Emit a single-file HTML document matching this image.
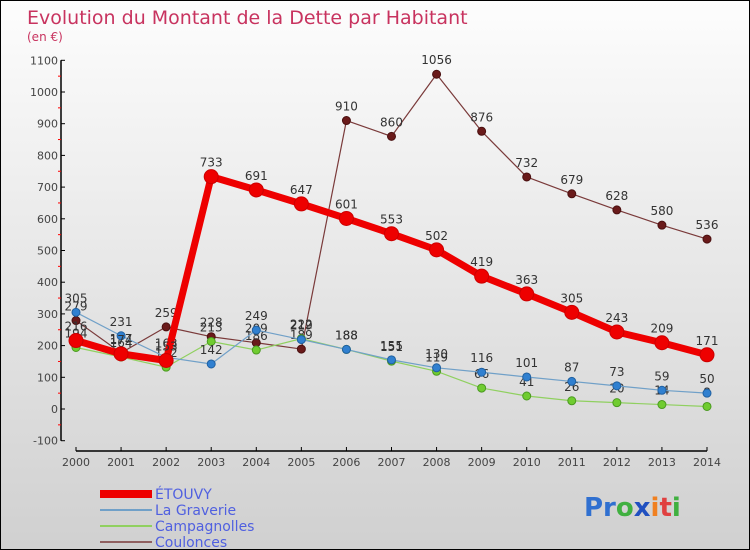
<!DOCTYPE html>
<html><head><meta charset="utf-8"><style>
body{margin:0;width:750px;height:550px;overflow:hidden;font-family:"DejaVu Sans","Liberation Sans",sans-serif}
#wrap{position:relative;width:748px;height:548px;border:1px solid #000;background:linear-gradient(#fdfdfd,#d0d0d0)}
svg{position:absolute;left:0;top:0}
</style></head><body>
<div id="wrap">
<svg id="chart" width="748" height="548" font-family="DejaVu Sans, Liberation Sans, sans-serif">
<text x="26" y="23" font-size="19" fill="#c8335f">Evolution du Montant de la Dette par Habitant</text>
<text x="26" y="40" font-size="12" fill="#c8335f">(en €)</text>
<g id="axes"></g><g id="series"></g>
<g>
<rect x="99" y="489" width="52" height="8" fill="#ee0000"/>
<rect x="99" y="508" width="52" height="2" fill="#70a0c8"/>
<rect x="99" y="524" width="52" height="2" fill="#90d060"/>
<rect x="99" y="540" width="52" height="2" fill="#906060"/>
<text x="154" y="498" font-size="14" fill="#5060e0">ÉTOUVY</text>
<text x="154" y="514" font-size="14" fill="#5060e0">La Graverie</text>
<text x="154" y="530" font-size="14" fill="#5060e0">Campagnolles</text>
<text x="154" y="546" font-size="14" fill="#5060e0">Coulonces</text>
</g>
<text x="583" y="515" font-size="26" font-weight="bold"><tspan fill="#3070d0">Pr</tspan><tspan fill="#40b040">o</tspan><tspan fill="#2050c0">x</tspan><tspan fill="#f08020">i</tspan><tspan fill="#e04040">t</tspan><tspan fill="#40b040">i</tspan></text>
</svg></div>
<script>
const years=[2000,2001,2002,2003,2004,2005,2006,2007,2008,2009,2010,2011,2012,2013,2014];
const etouvy=[216,174,153,733,691,647,601,553,502,419,363,305,243,209,171];
const graverie=[305,231,163,142,249,219,188,155,130,116,101,87,73,59,50];
const campagnolles=[194,164,132,213,186,222,188,151,119,66,41,26,20,14,8];
const coulonces=[279,177,259,228,209,189,910,860,1056,876,732,679,628,580,536];
const yTicks=[-100,0,100,200,300,400,500,600,700,800,900,1000,1100];
const NS="http://www.w3.org/2000/svg";
const xS=i=>75+i*(631/14);
const yS=v=>408-v*0.317;
function mk(t,a,p){const e=document.createElementNS(NS,t);for(const k in a)e.setAttribute(k,a[k]);p.appendChild(e);return e;}
const ax=document.getElementById('axes'),sg=document.getElementById('series');
let l=mk('line',{x1:60,y1:yS(1100),x2:60,y2:yS(-100),stroke:'#000','stroke-width':1.5},ax);


l=mk('line',{x1:xS(0),y1:450,x2:xS(14),y2:450,stroke:'#000','stroke-width':1.5},ax);


yTicks.forEach((v,i)=>{
 mk('line',{x1:60,y1:yS(v),x2:64,y2:yS(v),stroke:'#000'},ax);
 if(i<yTicks.length-1)mk('line',{x1:57,y1:yS(v+50),x2:60,y2:yS(v+50),stroke:'#f00'},ax);
 const t=mk('text',{x:57,y:yS(v)+4,'font-size':11,fill:'#444','text-anchor':'end'},ax);
 t.textContent=v;
 
 
});
years.forEach((y,i)=>{
 mk('line',{x1:xS(i),y1:446,x2:xS(i),y2:450,stroke:'#000'},ax);
 const t=mk('text',{x:xS(i),y:465,'font-size':11,fill:'#444','text-anchor':'middle'},ax);
 t.textContent=y;
 
 
});
function series(data,name,col,w,r,dot,stroke){
 const g=mk('g',{},sg);
 
 
 const p=mk('polyline',{points:data.map((v,i)=>xS(i)+','+yS(v)).join(' '),fill:'none',stroke:col,'stroke-width':w,'stroke-linejoin':'round'},g);
 
 
 data.forEach((v,i)=>{
  const c=mk('circle',{cx:xS(i),cy:yS(v),r:r,fill:dot,stroke:stroke,'stroke-width':1},g);
  
  
  const t=mk('text',{x:xS(i),y:yS(v)-10,'font-size':12,fill:'#333','text-anchor':'middle'},g);
  t.textContent=v;
  
  
 });
}
series(coulonces,'coulonces','#7a3a3a',1.2,4,'#6a1a1a','#4a1010');
series(campagnolles,'campagnolles','#90d060',1.2,4,'#70cc30','#4a9a20');
series(graverie,'la-graverie','#70a0c8',1.2,4,'#3080d0','#2060a0');
series(etouvy,'etouvy','#ee0000',7,7,'#ee0000','#cc0000');
</script>
</body></html>
